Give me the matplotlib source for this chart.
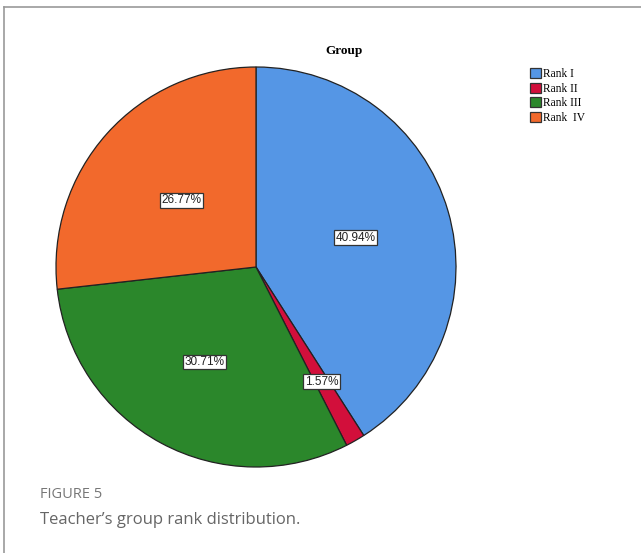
import numpy as np
import matplotlib.pyplot as plt
from matplotlib.lines import Line2D
from matplotlib.patches import Patch

# Group rank shares (%)
ranks = ["Rank I", "Rank II", "Rank III", "Rank  IV"]
shares = [40.94, 1.57, 30.71, 26.77]
colors = ["#5596e5", "#d20f3b", "#2b872b", "#f2692c"]
label_dist = [0.52, 0.66, 0.54, 0.50]

W, H = 641, 553
fig = plt.figure(figsize=(W / 100, H / 100), dpi=100)

# outer frame of the figure panel (top and left edges)
fig.add_artist(Line2D([4 / W, 1], [1 - 7 / H, 1 - 7 / H], color="#999999", lw=1.2))
fig.add_artist(Line2D([4 / W, 4 / W], [0, 1 - 7 / H], color="#999999", lw=1.2))

cx, cy, r = 256, 267, 200
ax = fig.add_axes([(cx - r) / W, 1 - (cy + r) / H, 2 * r / W, 2 * r / H])
wedges, _ = ax.pie(shares, colors=colors, startangle=90, counterclock=False,
                   wedgeprops=dict(edgecolor="#222222", linewidth=0.9))
ax.set_aspect("equal")
ax.set_xlim(-1.0, 1.0)
ax.set_ylim(-1.0, 1.0)

for w, val, d in zip(wedges, shares, label_dist):
    mid = np.deg2rad((w.theta1 + w.theta2) / 2)
    ax.text(d * np.cos(mid), d * np.sin(mid), f"{val:.2f}%",
            ha="center", va="center", fontsize=8.5, family="Liberation Sans",
            color="#222222",
            bbox=dict(boxstyle="square,pad=0.12", fc="white", ec="#333333", lw=0.9))

fig.text(344 / W, 1 - 51 / H, "Group", ha="center", va="center",
         fontsize=9.5, fontweight="bold", family="Liberation Serif")

handles = [Patch(facecolor=c, edgecolor="#333333", lw=0.9) for c in colors]
fig.legend(handles, ranks, loc="upper left", bbox_to_anchor=(530 / W, 1 - 68 / H),
           frameon=False, prop={"family": "Liberation Serif", "size": 8.3},
           handlelength=0.95, handleheight=0.95, handletextpad=0.2,
           labelspacing=0.22, borderpad=0, borderaxespad=0)

fig.text(40 / W, 1 - 495 / H, "FIGURE 5", ha="left", va="center",
         fontsize=10.5, family="Open Sans", color="#777777")
fig.text(40 / W, 1 - 520 / H, "Teacher\u2019s group rank distribution.", ha="left",
         va="center", fontsize=12, family="Open Sans", color="#666666")

fig.savefig("out.png", dpi=100)
